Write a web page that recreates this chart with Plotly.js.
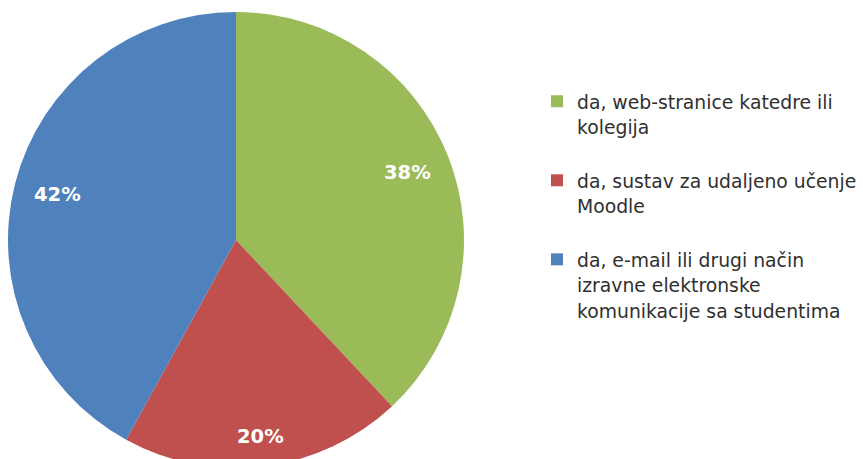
<!DOCTYPE html>
<html><head><meta charset="utf-8">
<script src="https://cdn.plot.ly/plotly-3.0.1.min.js"></script>
<style>html,body{margin:0;padding:0;overflow:hidden;background:#fff}#c{width:863px;height:480px}</style>
</head><body><div id="c"></div>
<script>
const labelLines = [
  ["da, web-stranice katedre ili", "kolegija"],
  ["da, sustav za udaljeno učenje", "Moodle"],
  ["da, e-mail ili drugi način", "izravne elektronske", "komunikacije sa studentima"]
];
const values = [38, 20, 42];
const percentText = ["38%", "20%", "42%"];
const colors = ["#9BBB59", "#C0504D", "#4F81BD"];

const W = 863, H = 480;
const dom = {x: [8/863, 464/863], y: [0.025, 0.975]};
const labelRadius = [0.81, 0.87, 0.81];
const legendTextSize = 18.8;

const labels = labelLines.map(function (lines) {
  const shown = lines.map(function (l) { return '<span style="font-size:' + legendTextSize + 'px">' + l + '</span>'; });
  if (lines.length < 3) shown.push(' ');
  return shown.join('<br>');
});

// label positions derived from the data through the pie geometry
const total = values.reduce(function (a, b) { return a + b; }, 0);
const cx = (dom.x[0] + dom.x[1]) / 2 * W;
const cy = (1 - (dom.y[0] + dom.y[1]) / 2) * H;
const R = (dom.x[1] - dom.x[0]) / 2 * W;
let cum = 0;
const annotations = values.map(function (v, i) {
  const mid = (cum + v / 2) / total * 2 * Math.PI;
  cum += v;
  const r = R * labelRadius[i];
  const px = cx + r * Math.sin(mid);
  const py = cy - r * Math.cos(mid);
  return {
    xref: "paper", yref: "paper", x: px / W, y: 1 - py / H,
    xanchor: "center", yanchor: "middle", showarrow: false,
    text: percentText[i],
    font: {family: "DejaVu Sans", size: 19.5, color: "#ffffff", weight: "bold"}
  };
});

Plotly.newPlot("c", [{
  type: "pie",
  labels: labels,
  values: values,
  sort: false,
  direction: "clockwise",
  rotation: 0,
  marker: {colors: colors, line: {width: 0}},
  textinfo: "none",
  hoverinfo: "none",
  domain: dom
}], {
  width: W, height: H,
  margin: {l: 0, r: 0, t: 0, b: 0},
  paper_bgcolor: "#ffffff",
  showlegend: true,
  annotations: annotations,
  legend: {x: 537/863, y: 0.829, xanchor: "left", yanchor: "top", valign: "top",
    font: {family: "DejaVu Sans", size: 19.5, color: "#303030"}, itemwidth: 30},
  font: {family: "DejaVu Sans"}
}, {staticPlot: true});
</script></body></html>
